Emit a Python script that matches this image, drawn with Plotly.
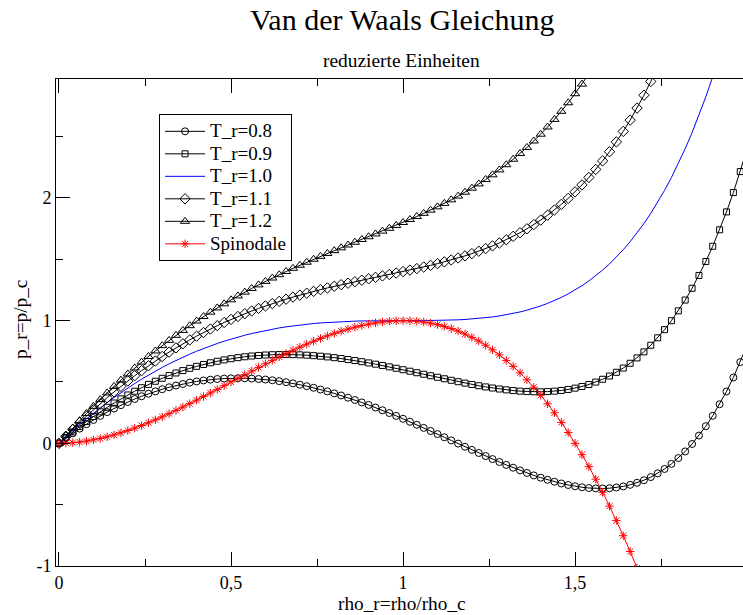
import plotly.graph_objects as go

RHO = [0.00, 0.02, 0.04, 0.06, 0.08, 0.10, 0.12, 0.14, 0.16, 0.18,
       0.20, 0.22, 0.24, 0.26, 0.28, 0.30, 0.32, 0.34, 0.36, 0.38,
       0.40, 0.42, 0.44, 0.46, 0.48, 0.50, 0.52, 0.54, 0.56, 0.58,
       0.60, 0.62, 0.64, 0.66, 0.68, 0.70, 0.72, 0.74, 0.76, 0.78,
       0.80, 0.82, 0.84, 0.86, 0.88, 0.90, 0.92, 0.94, 0.96, 0.98,
       1.00, 1.02, 1.04, 1.06, 1.08, 1.10, 1.12, 1.14, 1.16, 1.18,
       1.20, 1.22, 1.24, 1.26, 1.28, 1.30, 1.32, 1.34, 1.36, 1.38,
       1.40, 1.42, 1.44, 1.46, 1.48, 1.50, 1.52, 1.54, 1.56, 1.58,
       1.60, 1.62, 1.64, 1.66, 1.68, 1.70, 1.72, 1.74, 1.76, 1.78,
       1.80, 1.82, 1.84, 1.86, 1.88, 1.90, 1.92, 1.94, 1.96, 1.98,
       2.00]

P_T08 = [0, 0.0418, 0.0817, 0.1198, 0.1561, 0.1907, 0.2235, 0.2545, 0.2838, 0.3113,
         0.3371, 0.3613, 0.3837, 0.4045, 0.4236, 0.4411, 0.4570, 0.4712, 0.4839, 0.4950,
         0.5046, 0.5127, 0.5192, 0.5243, 0.5278, 0.5300, 0.5307, 0.5301, 0.5281, 0.5247,
         0.5200, 0.5140, 0.5068, 0.4983, 0.4887, 0.4778, 0.4659, 0.4528, 0.4386, 0.4235,
         0.4073, 0.3901, 0.3721, 0.3532, 0.3334, 0.3129, 0.2916, 0.2696, 0.2470, 0.2238,
         0.2000, 0.1758, 0.1511, 0.1261, 0.1008, 0.0753, 0.0496, 0.0238, -0.0020, -0.0278,
         -0.0533, -0.0787, -0.1037, -0.1283, -0.1524, -0.1759, -0.1986, -0.2205, -0.2415, -0.2614,
         -0.2800, -0.2973, -0.3131, -0.3273, -0.3396, -0.3500, -0.3582, -0.3641, -0.3675, -0.3681,
         -0.3657, -0.3602, -0.3512, -0.3384, -0.3217, -0.3008, -0.2752, -0.2447, -0.2089, -0.1675,
         -0.1200, -0.0660, -0.0051, 0.0633, 0.1397, 0.2245, 0.3186, 0.4224, 0.5367, 0.6623,
         0.8000]

P_T09 = [0, 0.0471, 0.0925, 0.1361, 0.1781, 0.2183, 0.2568, 0.2937, 0.3288, 0.3624,
         0.3943, 0.4246, 0.4533, 0.4804, 0.5060, 0.5300, 0.5525, 0.5735, 0.5930, 0.6111,
         0.6277, 0.6429, 0.6567, 0.6691, 0.6802, 0.6900, 0.6985, 0.7057, 0.7117, 0.7164,
         0.7200, 0.7224, 0.7237, 0.7240, 0.7231, 0.7213, 0.7185, 0.7147, 0.7101, 0.7045,
         0.6982, 0.6911, 0.6832, 0.6747, 0.6655, 0.6557, 0.6454, 0.6346, 0.6234, 0.6119,
         0.6000, 0.5879, 0.5756, 0.5632, 0.5508, 0.5384, 0.5262, 0.5141, 0.5023, 0.4909,
         0.4800, 0.4696, 0.4599, 0.4510, 0.4429, 0.4359, 0.4299, 0.4253, 0.4219, 0.4201,
         0.4200, 0.4217, 0.4254, 0.4312, 0.4393, 0.4500, 0.4634, 0.4797, 0.4992, 0.5221,
         0.5486, 0.5790, 0.6136, 0.6526, 0.6964, 0.7454, 0.7998, 0.8601, 0.9266, 0.9997,
         1.0800, 1.1679, 1.2639, 1.3686, 1.4825, 1.6064, 1.7408, 1.8866, 2.0444, 2.2153,
         2.4000]

P_T10 = [0, 0.0525, 0.1033, 0.1525, 0.2000, 0.2459, 0.2901, 0.3328, 0.3739, 0.4134,
         0.4514, 0.4879, 0.5229, 0.5563, 0.5883, 0.6189, 0.6480, 0.6758, 0.7021, 0.7271,
         0.7508, 0.7731, 0.7942, 0.8140, 0.8326, 0.8500, 0.8662, 0.8813, 0.8953, 0.9082,
         0.9200, 0.9308, 0.9407, 0.9496, 0.9576, 0.9648, 0.9711, 0.9767, 0.9815, 0.9856,
         0.9891, 0.9920, 0.9943, 0.9962, 0.9976, 0.9986, 0.9993, 0.9997, 0.9999, 1.0000,
         1.0000, 1.0000, 1.0001, 1.0003, 1.0008, 1.0016, 1.0028, 1.0044, 1.0067, 1.0096,
         1.0133, 1.0180, 1.0236, 1.0303, 1.0383, 1.0477, 1.0585, 1.0710, 1.0854, 1.1016,
         1.1200, 1.1407, 1.1638, 1.1896, 1.2183, 1.2500, 1.2850, 1.3236, 1.3659, 1.4122,
         1.4629, 1.5181, 1.5783, 1.6437, 1.7146, 1.7915, 1.8748, 1.9648, 2.0620, 2.1669,
         2.2800, 2.4018, 2.5329, 2.6738, 2.8254, 2.9882, 3.1630]

P_T11 = [0, 0.0579, 0.1141, 0.1688, 0.2219, 0.2734, 0.3235, 0.3720, 0.4190, 0.4645,
         0.5086, 0.5512, 0.5924, 0.6322, 0.6707, 0.7078, 0.7435, 0.7780, 0.8112, 0.8431,
         0.8738, 0.9034, 0.9317, 0.9589, 0.9850, 1.0100, 1.0340, 1.0569, 1.0789, 1.0999,
         1.1200, 1.1392, 1.1576, 1.1753, 1.1921, 1.2083, 1.2238, 1.2386, 1.2529, 1.2667,
         1.2800, 1.2929, 1.3054, 1.3176, 1.3296, 1.3414, 1.3531, 1.3647, 1.3764, 1.3881,
         1.4000, 1.4121, 1.4246, 1.4374, 1.4508, 1.4647, 1.4794, 1.4948, 1.5110, 1.5283,
         1.5467, 1.5663, 1.5872, 1.6096, 1.6336, 1.6594, 1.6871, 1.7168, 1.7488, 1.7831,
         1.8200, 1.8597, 1.9023, 1.9481, 1.9972, 2.0500, 2.1066, 2.1674, 2.2325, 2.3024,
         2.3771, 2.4572, 2.5430, 2.6347, 2.7328, 2.8377, 2.9498, 3.0696]

P_T12 = [0, 0.0632, 0.1249, 0.1851, 0.2438, 0.3010, 0.3568, 0.4111, 0.4640, 0.5156,
         0.5657, 0.6145, 0.6620, 0.7081, 0.7530, 0.7967, 0.8391, 0.8803, 0.9203, 0.9592,
         0.9969, 1.0336, 1.0692, 1.1038, 1.1374, 1.1700, 1.2017, 1.2325, 1.2625, 1.2916,
         1.3200, 1.3476, 1.3746, 1.4009, 1.4266, 1.4517, 1.4764, 1.5006, 1.5243, 1.5478,
         1.5709, 1.5938, 1.6165, 1.6391, 1.6617, 1.6843, 1.7070, 1.7298, 1.7529, 1.7762,
         1.8000, 1.8243, 1.8491, 1.8746, 1.9008, 1.9279, 1.9560, 1.9851, 2.0154, 2.0470,
         2.0800, 2.1146, 2.1508, 2.1889, 2.2290, 2.2712, 2.3157, 2.3626, 2.4122, 2.4646,
         2.5200, 2.5786, 2.6407, 2.7065, 2.7762, 2.8500, 2.9283, 3.0112]

P_SPIN = [0, 0.0012, 0.0047, 0.0104, 0.0182, 0.0280, 0.0397, 0.0533, 0.0686, 0.0855,
          0.1040, 0.1239, 0.1452, 0.1676, 0.1913, 0.2160, 0.2417, 0.2682, 0.2955, 0.3235,
          0.3520, 0.3810, 0.4104, 0.4401, 0.4700, 0.5000, 0.5300, 0.5599, 0.5896, 0.6190,
          0.6480, 0.6765, 0.7045, 0.7318, 0.7583, 0.7840, 0.8087, 0.8324, 0.8548, 0.8761,
          0.8960, 0.9145, 0.9314, 0.9467, 0.9603, 0.9720, 0.9818, 0.9896, 0.9953, 0.9988,
          1.0000, 0.9988, 0.9951, 0.9888, 0.9798, 0.9680, 0.9533, 0.9357, 0.9150, 0.8911,
          0.8640, 0.8335, 0.7996, 0.7620, 0.7209, 0.6760, 0.6273, 0.5746, 0.5179, 0.4571,
          0.3920, 0.3226, 0.2488, 0.1705, 0.0876, 0.0000, -0.0924, -0.1897, -0.2920, -0.3994,
          -0.5120, -0.6299, -0.7531, -0.8818, -1.0161]

SERIES_NAMES = ["T_r=0.8", "T_r=0.9", "T_r=1.0", "T_r=1.1", "T_r=1.2", "Spinodale"]
X_TICKS = [0, 0.5, 1, 1.5, 2]
X_TICK_LABELS = ["0", "0,5", "1", "1,5", "2"]
Y_TICKS = [-1, 0, 1, 2]
Y_TICK_LABELS = ["-1", "0", "1", "2"]

FONT = "Liberation Serif"

styles = [
    dict(mode="lines+markers", color="black", symbol="circle-open", size=7),
    dict(mode="lines+markers", color="black", symbol="square-open", size=6),
    dict(mode="lines", color="blue", symbol=None, size=0),
    dict(mode="lines+markers", color="black", symbol="diamond-open", size=8),
    dict(mode="lines+markers", color="black", symbol="triangle-up-open", size=8),
    dict(mode="lines+markers", color="red", symbol="asterisk-open", size=7),
]
values = [P_T08, P_T09, P_T10, P_T11, P_T12, P_SPIN]

fig = go.Figure()
for name, vals, st in zip(SERIES_NAMES, values, styles):
    kw = dict(x=RHO[:len(vals)], y=vals,
              name="<span style='font-size:19px'>" + name + "</span>",
              mode=st["mode"], line=dict(color=st["color"], width=1))
    if st["symbol"]:
        kw["marker"] = dict(symbol=st["symbol"], size=st["size"], color=st["color"],
                            line=dict(color=st["color"], width=1))
    fig.add_trace(go.Scatter(**kw))

axis_common = dict(showgrid=False, zeroline=False, showline=True, linecolor="black",
                   linewidth=1, ticks="inside", tickcolor="black", tickwidth=1,
                   ticklen=14, tickfont=dict(family=FONT, size=18, color="black"))

fig.update_layout(
    width=743, height=615,
    margin=dict(l=56, r=0, t=79, b=49),
    paper_bgcolor="white", plot_bgcolor="white",
    separators=",.",
    font=dict(family=FONT, color="black"),
    xaxis=dict(range=[-0.0087, 1.988], mirror="ticks", tickmode="array",
               tickvals=X_TICKS, ticktext=X_TICK_LABELS,
               minor=dict(ticks="inside", ticklen=7, dtick=0.25, tick0=0,
                          tickcolor="black", tickwidth=1),
               **axis_common),
    yaxis=dict(range=[-1, 2.97], mirror=False, tickmode="array",
               tickvals=Y_TICKS, ticktext=Y_TICK_LABELS,
               minor=dict(ticks="inside", ticklen=7, dtick=0.5, tick0=0,
                          tickcolor="black", tickwidth=1),
               **axis_common),
    yaxis2=dict(range=[-1, 2.97], overlaying="y", side="right", showline=False,
                showgrid=False, zeroline=False, ticks="inside", ticklen=10,
                tickcolor="black", tickwidth=1, tickmode="array", tickvals=Y_TICKS,
                showticklabels=False,
                minor=dict(ticks="inside", ticklen=3, dtick=0.5, tick0=0,
                           tickcolor="black", tickwidth=1)),
    showlegend=True,
    legend=dict(x=0.150, y=0.928, xanchor="left", yanchor="top",
                bordercolor="black", borderwidth=1, bgcolor="white",
                font=dict(family=FONT, size=15, color="black"),
                itemwidth=40, tracegroupgap=0),
    annotations=[
        dict(text="Van der Waals Gleichung", xref="paper", yref="paper",
             x=0.5032, y=1.122, xanchor="center", yanchor="middle",
             showarrow=False, font=dict(family=FONT, size=30, color="black")),
        dict(text="reduzierte Einheiten", xref="paper", yref="paper",
             x=0.5032, y=1.038, xanchor="center", yanchor="middle",
             showarrow=False, font=dict(family=FONT, size=19.4, color="black")),
        dict(text="rho_r=rho/rho_c", xref="paper", yref="paper",
             x=0.5032, y=-0.077, xanchor="center", yanchor="middle",
             showarrow=False, font=dict(family=FONT, size=19.3, color="black")),
        dict(text="p_r=p/p_c", xref="paper", yref="paper",
             x=-0.0524, y=0.505, xanchor="center", yanchor="middle", textangle=-90,
             showarrow=False, font=dict(family=FONT, size=19.3, color="black")),
    ],
)

fig.write_html("out.html",
               config={"displayModeBar": False},
               post_script="document.body.style.margin='0';"
                           "document.body.style.overflow='hidden';")
